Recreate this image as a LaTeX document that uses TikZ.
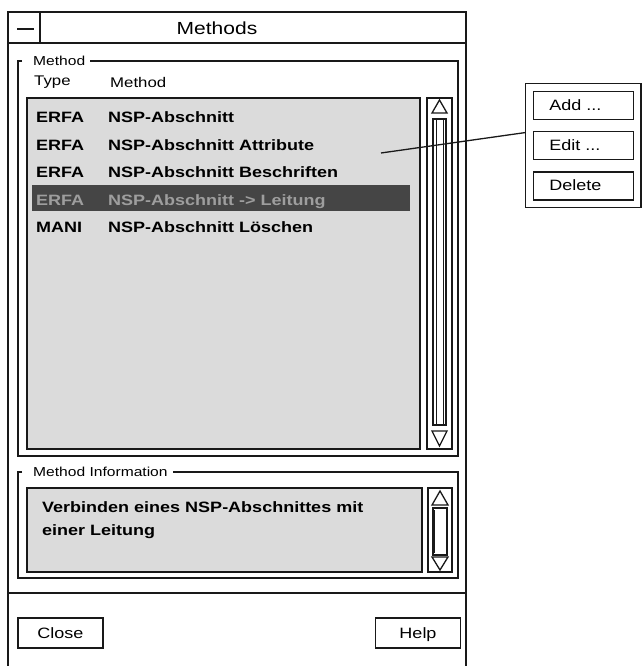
\documentclass[tikz,border=0pt]{standalone}
\usepackage{fontspec}
\setmainfont{Liberation Sans}[FakeStretch=1.2]
\usepackage{tikz}
\usetikzlibrary{matrix}

\definecolor{listgray}{gray}{0.86}
\definecolor{selbg}{gray}{0.27}
\definecolor{selfg}{gray}{0.62}
\definecolor{ink}{gray}{0.1}

\tikzset{
  winline/.style={draw=ink, line width=1.7pt},
  boxline/.style={draw=ink, line width=1.3pt},
  grplabel/.style={anchor=west, inner xsep=5pt, font=\fontsize{13}{15}\selectfont},
  pushbtn/.style={draw=ink, line width=1.3pt, minimum width=85pt, minimum height=30pt,
                  text height=11pt, text depth=1pt, font=\fontsize{15}{18}\selectfont},
}

\begin{document}
\begin{tikzpicture}[x=1pt, y=-1pt]
  \useasboundingbox (0,0) rectangle (641,666);

  % window
  \draw[winline] (8,666) -- (8,12) -- (466,12) -- (466,666);
  \draw[winline] (8,43) -- (466,43);
  \draw[winline] (40,12) -- (40,43);
  \draw[ink, line width=2.5pt] (17,29) -- (34,29);
  \node[font=\fontsize{17.5}{20}\selectfont] (title) at (217,28) {Methods};
  \draw[winline] (8,593) -- (466,593);

  % method group
  \node[grplabel] (grpmeth) at (28,61) {Method};
  \draw[boxline] (22,61) -- (18,61) -- (18,456) -- (458,456) -- (458,61) -- (grpmeth.east);
  \node[anchor=west, inner xsep=0pt, font=\fontsize{14}{16}\selectfont] (hdtype) at (34,82) {Type};
  \node[anchor=west, inner xsep=0pt, font=\fontsize{14}{16}\selectfont] (hdmeth) at (110,82) {Method};

  \draw[boxline, line width=1.8pt, fill=listgray] (27,98) rectangle (420,449);
  \fill[selbg] (32,185) rectangle (410,211);
  \matrix[matrix of nodes, anchor=north west, inner sep=0pt, column sep=0pt, row sep=0pt,
          nodes={anchor=base west, inner xsep=0pt, text height=11pt, text depth=3pt,
                 minimum height=27.5pt, font=\bfseries\fontsize{15}{18}\selectfont},
          column 1/.style={nodes={text width=72pt}},
          row 4/.style={nodes={text=selfg}}] (lst) at (36,104.6) {
    ERFA & NSP-Abschnitt \\
    ERFA & NSP-Abschnitt Attribute \\
    ERFA & NSP-Abschnitt Beschriften \\
    ERFA & NSP-Abschnitt -> Leitung \\
    MANI & NSP-Abschnitt Löschen \\
  };

  % list scrollbar
  \draw[boxline] (427,98) rectangle (452,449);
  \draw[boxline] (432,113) -- (439.5,100) -- (447,113) -- cycle;
  \draw[boxline] (433,119) rectangle (446,425);
  \draw[ink, line width=0.6pt] (436,119) -- (436,425) (443,119) -- (443,425);
  \draw[boxline] (432,431) -- (439.5,446) -- (447,431) -- cycle;

  % method information group
  \node[grplabel] (grpinfo) at (28,472) {Method Information};
  \draw[boxline] (22,472) -- (18,472) -- (18,578) -- (458,578) -- (458,472) -- (grpinfo.east);
  \draw[boxline, line width=1.8pt, fill=listgray] (27,488) rectangle (422,572);
  \node[anchor=base west, align=left, inner sep=0pt,
        font=\bfseries\fontsize{15}{23}\selectfont] (info) at (42,535.4)
        {Verbinden eines NSP-Abschnittes mit\\einer Leitung};

  % info scrollbar
  \draw[boxline] (428,488) rectangle (452,572);
  \draw[boxline] (432,505) -- (440,491) -- (448,505) -- cycle;
  \draw[boxline] (433,508) rectangle (447,555);
  \draw[ink, line width=2pt] (434,510) -- (434,553);
  \draw[boxline] (432,557) -- (440,570) -- (448,557) -- cycle;

  % bottom buttons
  \node[pushbtn] (close) at (60.5,633) {Close};
  \node[pushbtn] (help) at (418,633) {Help};

  % action panel
  \matrix[matrix of nodes, draw=ink, line width=1.3pt, anchor=north west, inner sep=7pt, row sep=11pt,
          nodes={draw=ink, line width=1.3pt, text width=68pt, inner xsep=16pt, minimum height=28pt,
                 text height=11pt, text depth=1pt, font=\fontsize{15}{18}\selectfont}] (btns) at (525,83) {
    Add ... \\
    Edit ... \\
    Delete \\
  };

  \coordinate (ptr) at (381,153);
  \draw[ink, line width=1.3pt] (ptr) -- ([yshift=13pt]btns.west);
\end{tikzpicture}
\end{document}
